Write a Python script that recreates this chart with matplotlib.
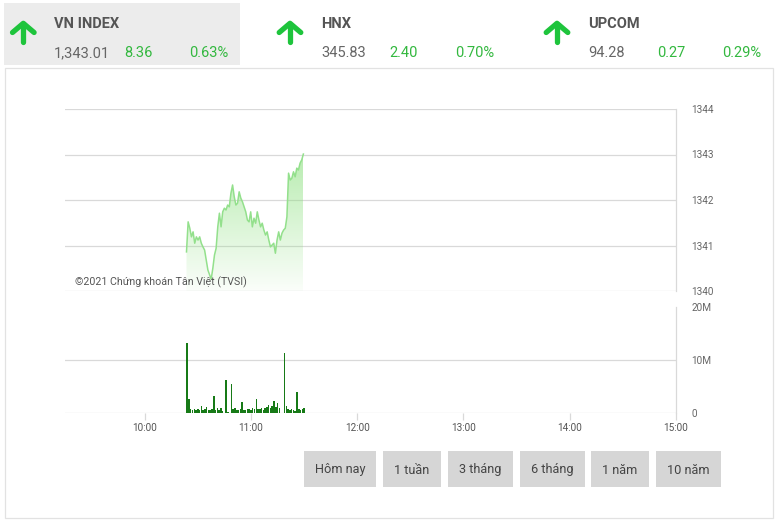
import numpy as np
import matplotlib
matplotlib.use("Agg")
import matplotlib.pyplot as plt
from matplotlib.patches import Polygon, Rectangle
from matplotlib.lines import Line2D

W, H = 780, 523
NARROW = ['Roboto', 'DejaVu Sans']
REG = ['Roboto', 'DejaVu Sans']

# ---------------- data ----------------
header_names = ["VN INDEX", "HNX", "UPCOM"]
header_values = ["1,343.01", "345.83", "94.28"]
header_changes = ["8.36", "2.40", "0.27"]
header_pcts = ["0.63%", "0.70%", "0.29%"]

price_values = [
    1340.86, 1341.52, 1341.38, 1341.19, 1341.30, 1341.05, 1341.19, 1341.12,
    1341.19, 1341.05, 1340.97, 1340.90, 1340.68, 1340.46, 1340.36, 1340.26,
    1340.50, 1340.79, 1340.94, 1341.41, 1341.71, 1341.41, 1341.74, 1341.82,
    1341.78, 1341.89, 1341.85, 1342.15, 1342.33, 1342.07, 1341.89, 1341.93,
    1342.18, 1342.04, 1341.96, 1341.85, 1341.74, 1341.56, 1341.52, 1341.74,
    1341.41, 1341.60, 1341.49, 1341.74, 1341.56, 1341.41, 1341.49, 1341.34,
    1341.23, 1341.30, 1341.12, 1340.97, 1341.01, 1341.05, 1340.83, 1341.12,
    1341.30, 1341.12, 1341.27, 1341.34, 1341.38, 1341.63, 1342.59, 1342.44,
    1342.48, 1342.62, 1342.51, 1342.70, 1342.66, 1342.81, 1342.88, 1343.01,
]
price_first_time, price_last_time = "10:23.6", "11:29.6"

volume_first_minute = "10:24"
volume_millions = [
    13.3, 2.7, 0.8, 0.6, 0.7, 0.5, 0.8, 0.6, 1.3, 0.6, 0.7, 1.1, 0.5, 0.6,
    0.7, 3.2, 0.5, 0.9, 0.6, 1.0, 0.3, 0.0, 6.2, 0.2, 0.0, 5.4, 0.8, 1.0,
    0.6, 0.5, 0.7, 2.1, 0.6, 0.5, 0.7, 0.8, 0.6, 0.9, 0.7, 2.6, 0.8, 0.7,
    1.0, 0.6, 0.9, 1.2, 1.6, 1.0, 1.3, 2.3, 1.1, 1.8, 0.9, 0.0, 0.0, 11.4,
    1.4, 0.8, 0.6, 0.7, 0.5, 0.3, 4.0, 0.7, 0.5, 0.8, 1.0,
]

time_labels = ["10:00", "11:00", "12:00", "13:00", "14:00", "15:00"]
price_ticks = [1340, 1341, 1342, 1343, 1344]
volume_ticks = [0, 10, 20]
volume_tick_labels = ["0", "10M", "20M"]
copyright_text = "©2021 Chứng khoán Tân Việt (TVSI)"
buttons = ["Hôm nay", "1 tuần", "3 tháng", "6 tháng", "1 năm", "10 năm"]


def to_min(s):
    h, m = s.split(":")
    return int(h) * 60 + float(m)


# ---------------- figure ----------------
fig = plt.figure(figsize=(W / 100, H / 100), dpi=100)
fig.patch.set_facecolor("white")


def fx(x):
    return x / W


def fy(y):
    return 1 - y / H


# header box & panel border
fig.patches.append(Rectangle((fx(4), fy(65)), fx(236), 62 / H, transform=fig.transFigure,
                             facecolor="#ececec", edgecolor="none", zorder=0))
fig.patches.append(Rectangle((fx(5), fy(518)), fx(768), 450 / H, transform=fig.transFigure,
                             facecolor="none", edgecolor="#e2e2e2", lw=0.9, zorder=0))

GREEN_TXT = "#33b83f"
ARROW = "#1ec43c"
arrow_cx = [23.3, 290, 557]
name_x = [54, 321, 588]
change_x = [124, 389, 657]
pct_right = [228, 494, 761]
for i in range(3):
    cx = arrow_cx[i]
    fig.lines.append(Line2D([fx(cx - 10.8), fx(cx), fx(cx + 10.8)], [fy(32.5), fy(23.3), fy(32.5)],
                            transform=fig.transFigure, color=ARROW, lw=3.8,
                            solid_capstyle="round", solid_joinstyle="round"))
    fig.lines.append(Line2D([fx(cx), fx(cx)], [fy(24), fy(42.5)], transform=fig.transFigure,
                            color=ARROW, lw=3.8, solid_capstyle="round"))
    fig.text(fx(name_x[i]), fy(24), header_names[i], family=NARROW, fontsize=10.5,
             fontweight="bold", color="#555555", va="center", ha="left")
    fig.text(fx(name_x[i]), fy(53), header_values[i], family=NARROW, fontsize=10.5,
             color="#666666", va="center", ha="left")
    fig.text(fx(change_x[i]), fy(53), header_changes[i], family=NARROW, fontsize=10.5,
             color=GREEN_TXT, va="center", ha="left")
    fig.text(fx(pct_right[i]), fy(53), header_pcts[i], family=NARROW, fontsize=10.5,
             color=GREEN_TXT, va="center", ha="right")

# ---------------- axes ----------------
XMIN, XMAX = to_min("9:15"), to_min("15:00")
left, right = 65, 676
ax1 = fig.add_axes([fx(left), fy(291), (right - left) / W, 182 / H])
ax2 = fig.add_axes([fx(left), fy(413), (right - left) / W, 106 / H])

GRID = "#d9d9d9"
for ax in (ax1, ax2):
    ax.set_facecolor("none")
    for s in ax.spines.values():
        s.set_visible(False)
    ax.spines["right"].set_visible(True)
    ax.spines["right"].set_color(GRID)
    ax.spines["right"].set_linewidth(0.9)
    ax.yaxis.tick_right()
    ax.tick_params(axis="y", length=0, pad=11, labelsize=7.2, labelcolor="#666666")
    ax.set_xlim(XMIN, XMAX)

# price panel
pt = np.linspace(to_min(price_first_time), to_min(price_last_time), len(price_values))
pv = np.array(price_values)
for v in price_ticks:
    ax1.axhline(v, color=GRID, lw=0.9, zorder=0)
verts = [(pt[0], price_ticks[0])] + list(zip(pt, pv)) + [(pt[-1], price_ticks[0])]
poly = Polygon(verts, closed=True, facecolor="none", edgecolor="none")
ax1.add_patch(poly)
n = 256
grad = np.zeros((n, 1, 4))
grad[:, 0, 0] = 0.55
grad[:, 0, 1] = 0.88
grad[:, 0, 2] = 0.50
grad[:, 0, 3] = np.linspace(0.04, 0.62, n)
im = ax1.imshow(grad, extent=[pt[0], pt[-1], price_ticks[0], pv.max()], origin="lower",
                aspect="auto", zorder=1, interpolation="bilinear")
im.set_clip_path(poly)
ax1.plot(pt, pv, color="#93e08c", lw=1.1, zorder=2)
ax1.set_ylim(price_ticks[0], price_ticks[-1])
ax1.set_xlim(XMIN, XMAX)
ax1.set_yticks(price_ticks)
ax1.set_yticklabels([str(v) for v in price_ticks], family=REG)
ax1.set_xticks([])
ax1.text((75 - left) / (right - left), 0.047, copyright_text, transform=ax1.transAxes,
         family=REG, fontsize=7.7, color="#555555", va="center", ha="left")

# volume panel
vt = to_min(volume_first_minute) + np.arange(len(volume_millions))
ax2.axhline(10, color=GRID, lw=0.9, zorder=0)
ax2.axhline(0, color=GRID, lw=0.9, zorder=0)
ax2.bar(vt, volume_millions, width=0.85, color="#177a17", align="center", zorder=2)
ax2.set_ylim(0, 20)
ax2.set_yticks(volume_ticks)
ax2.set_yticklabels(volume_tick_labels, family=REG)
tick_pos = [to_min(t) for t in time_labels]
ax2.set_xticks(tick_pos)
ax2.set_xticklabels(time_labels, family=REG)
ax2.tick_params(axis="x", length=5, width=0.9, color=GRID, pad=2, labelsize=7.2,
                labelcolor="#555555")

# ---------------- buttons ----------------
btn_x = [(304, 376), (383, 441), (448, 513), (520, 585), (591, 649), (656, 721)]
for (x0, x1), label in zip(btn_x, buttons):
    fig.patches.append(Rectangle((fx(x0), fy(487)), (x1 - x0) / W, 36 / H,
                                 transform=fig.transFigure, facecolor="#d6d6d6",
                                 edgecolor="none"))
    fig.text(fx((x0 + x1) / 2), fy(470), label, family=NARROW, fontsize=9.2,
             color="#444444", ha="center", va="center")

fig.savefig("out.png", dpi=100, facecolor="white")
